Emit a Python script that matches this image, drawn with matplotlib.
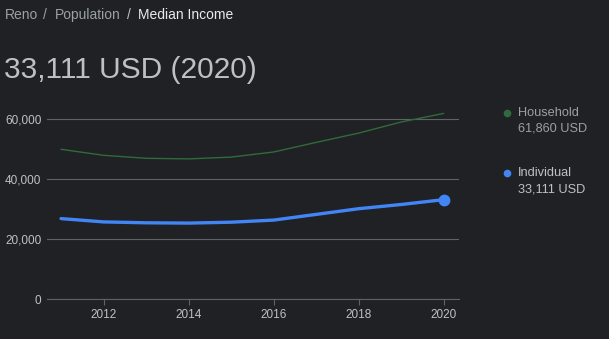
import matplotlib
matplotlib.use('Agg')
import matplotlib.pyplot as plt
from matplotlib.lines import Line2D

plt.rcParams['font.family'] = ['Liberation Sans', 'DejaVu Sans']

BG = '#202124'
GRID = '#5f6368'
TEXT = '#bdc1c6'
DIM = '#9aa0a6'
BLUE = '#4285f4'
GREEN = '#2f6b3d'

years = [2011, 2012, 2013, 2014, 2015, 2016, 2017, 2018, 2019, 2020]
household = [49900, 47900, 46900, 46700, 47300, 49000, 52200, 55300, 59000, 61860]
individual = [26800, 25700, 25400, 25300, 25600, 26300, 28200, 30100, 31500, 33111]

y_ticks = [0, 20000, 40000, 60000]
x_ticks = [2012, 2014, 2016, 2018, 2020]

fig = plt.figure(figsize=(6.09, 3.39), dpi=100)
fig.patch.set_facecolor(BG)
ax = fig.add_axes([47 / 609, 40 / 339, 412 / 609, 195 / 339])
ax.set_facecolor(BG)

ax.plot(years, household, color=GREEN, lw=1.0, solid_capstyle='round')
ax.plot(years, individual, color=BLUE, lw=2.4, solid_capstyle='round')
ax.plot(years[-1], individual[-1], 'o', color=BLUE, ms=7.5)

ax.set_xlim(2010.67, 2020.36)
ax.set_ylim(0, 65000)
ax.set_yticks(y_ticks)
ax.set_yticklabels([f'{v:,}' for v in y_ticks])
ax.set_xticks(x_ticks)
ax.set_xticklabels([str(v) for v in x_ticks])

ax.grid(axis='y', color=GRID, lw=0.8)
ax.set_axisbelow(True)
for name, sp in ax.spines.items():
    sp.set_visible(name == 'bottom')
ax.spines['bottom'].set_color(GRID)
ax.spines['bottom'].set_linewidth(0.8)
ax.tick_params(axis='y', length=0, pad=4, labelsize=8.5, labelcolor=TEXT)
ax.tick_params(axis='x', length=4, width=0.8, color=GRID, pad=3,
               labelsize=8.5, labelcolor=TEXT)

# breadcrumb and headline
crumb_y = 1 - 15 / 339
fig.text(5 / 609, crumb_y, 'Reno', color=DIM, fontsize=10, va='center')
fig.text(43 / 609, crumb_y, '/', color=DIM, fontsize=10, va='center')
fig.text(55 / 609, crumb_y, 'Population', color=DIM, fontsize=10, va='center')
fig.text(127 / 609, crumb_y, '/', color=TEXT, fontsize=10, va='center')
fig.text(138 / 609, crumb_y, 'Median Income', color='#e8eaed', fontsize=10, va='center')
fig.text(4 / 609, 1 - 70 / 339, '33,111 USD (2020)', color=TEXT, fontsize=21.5, va='center')

# legend
for y0, col, name, val in [(113, GREEN, 'Household', household[-1]),
                           (173, BLUE, 'Individual', individual[-1])]:
    tcol = TEXT if col == BLUE else DIM
    fig.add_artist(Line2D([507 / 609], [1 - y0 / 339], marker='o', ms=4.5,
                          color=col, transform=fig.transFigure))
    fig.text(518 / 609, 1 - y0 / 339, name, color=tcol, fontsize=9.2, va='center')
    fig.text(518 / 609, 1 - (y0 + 16) / 339, f'{val:,} USD', color=tcol,
             fontsize=9.2, va='center')

fig.savefig('out.png', dpi=100, facecolor=BG)
